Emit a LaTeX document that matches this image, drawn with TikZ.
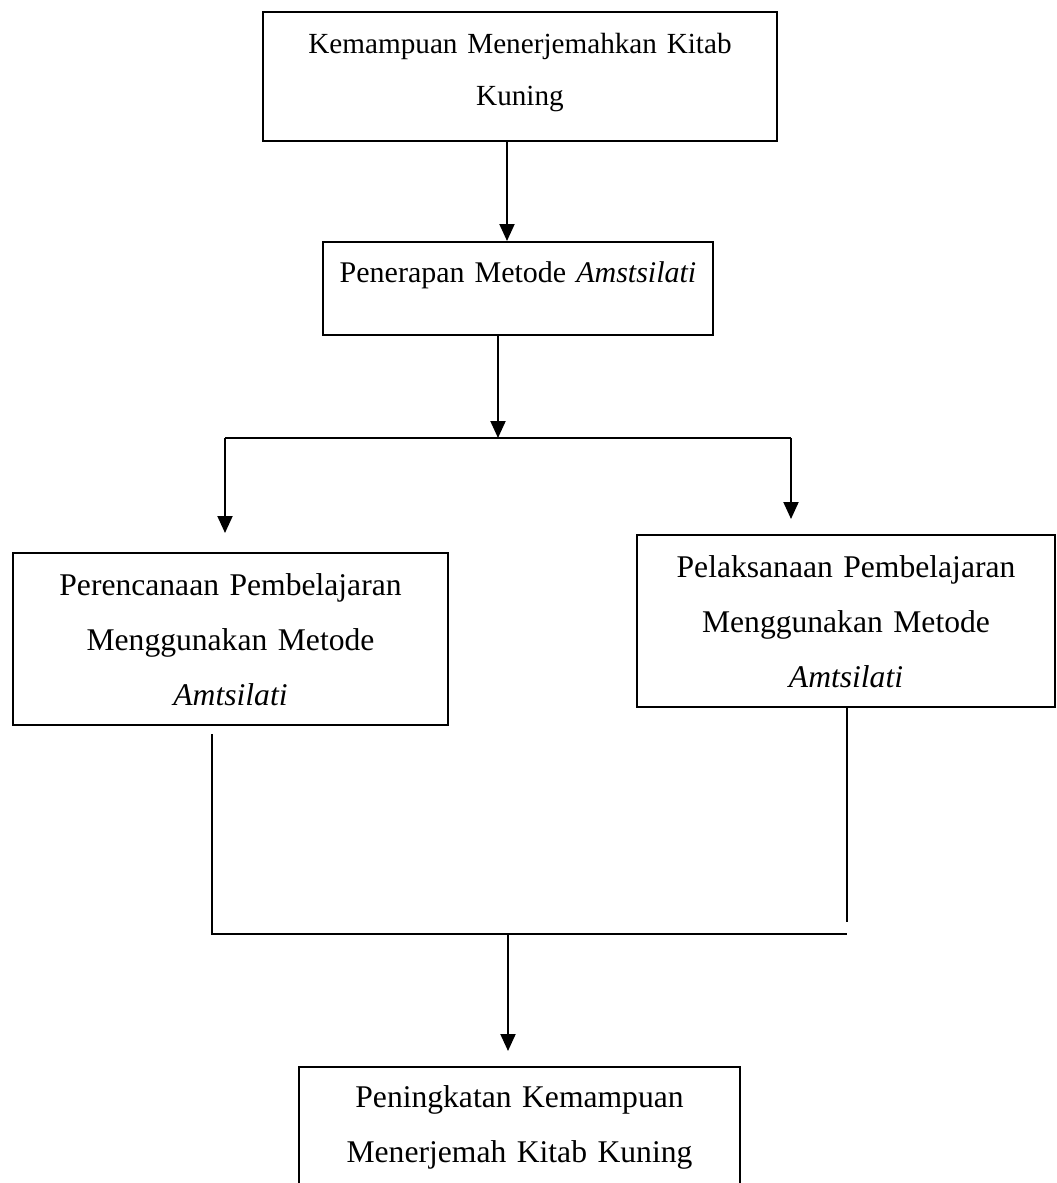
\documentclass[tikz,border=0pt]{standalone}
\usepackage{fontspec}
\setmainfont{Liberation Serif}
\usetikzlibrary{arrows.meta}

\begin{document}
\begin{tikzpicture}[x=0.5pt, y=-0.5pt, line width=1pt,
  kotak/.style={draw, anchor=north, align=center, inner sep=0pt, font=\fontsize{15.8}{27.5}\selectfont},
  panah/.style={-{Triangle[length=8.5pt,width=7.5pt]}}]
\useasboundingbox (0,0) rectangle (1056,1183);
\clip (0,0) rectangle (1056,1183);

\draw (520,11) node[kotak, font=\fontsize{14.6}{25.5}\selectfont, text width=257pt, text height=21pt, text depth=43.5pt] (kemampuan) {Kemampuan Menerjemahkan Kitab\\Kuning} ;

\draw (518,241) node[kotak, font=\fontsize{15}{27}\selectfont, text width=195pt, text height=20pt, text depth=26.5pt] (penerapan) {Penerapan Metode \textit{Amstsilati}} ;

\draw (230.5,552) node[kotak, text width=217.5pt, text height=21pt, text depth=65pt] (perencanaan) {Perencanaan Pembelajaran\\Menggunakan Metode\\\textit{Amtsilati}} ;
\draw (846,534) node[kotak, text width=209pt, text height=21pt, text depth=65pt] (pelaksanaan) {Pelaksanaan Pembelajaran\\Menggunakan Metode\\\textit{Amtsilati}} ;

\draw (519.5,1066) node[kotak, text width=220.5pt, text height=20pt, text depth=47pt] (peningkatan) {Peningkatan Kemampuan\\Menerjemah Kitab Kuning} ;

\coordinate (cabang) at (498,438) ;
\coordinate (cabangkiri) at (225,438) ;
\coordinate (cabangkanan) at (791,438) ;
\coordinate (gabungkiri) at (212,934) ;
\coordinate (gabungkanan) at (847,934) ;
\coordinate (gabung) at (508,934) ;

\draw[panah] ([xshift=-6.5pt]kemampuan.south) to ([xshift=-6.5pt]kemampuan.south |- penerapan.north) ;
\draw[panah] (penerapan.south -| cabang) to (cabang) ;

\draw (cabangkiri) to (cabangkanan) ;
\draw[panah, shorten >=9.5pt] (cabangkiri) to (cabangkiri |- perencanaan.north) ;
\draw[panah, shorten >=7.5pt] (cabangkanan) to (cabangkanan |- pelaksanaan.north) ;

\draw[shorten <=4pt] (gabungkiri |- perencanaan.south) -- (gabungkiri) -- (gabungkanan) ;
\draw[shorten >=6pt] (gabungkanan |- pelaksanaan.south) to (gabungkanan) ;
\draw[panah, shorten >=7.5pt] (gabung) to (gabung |- peningkatan.north) ;
\end{tikzpicture}
\end{document}
